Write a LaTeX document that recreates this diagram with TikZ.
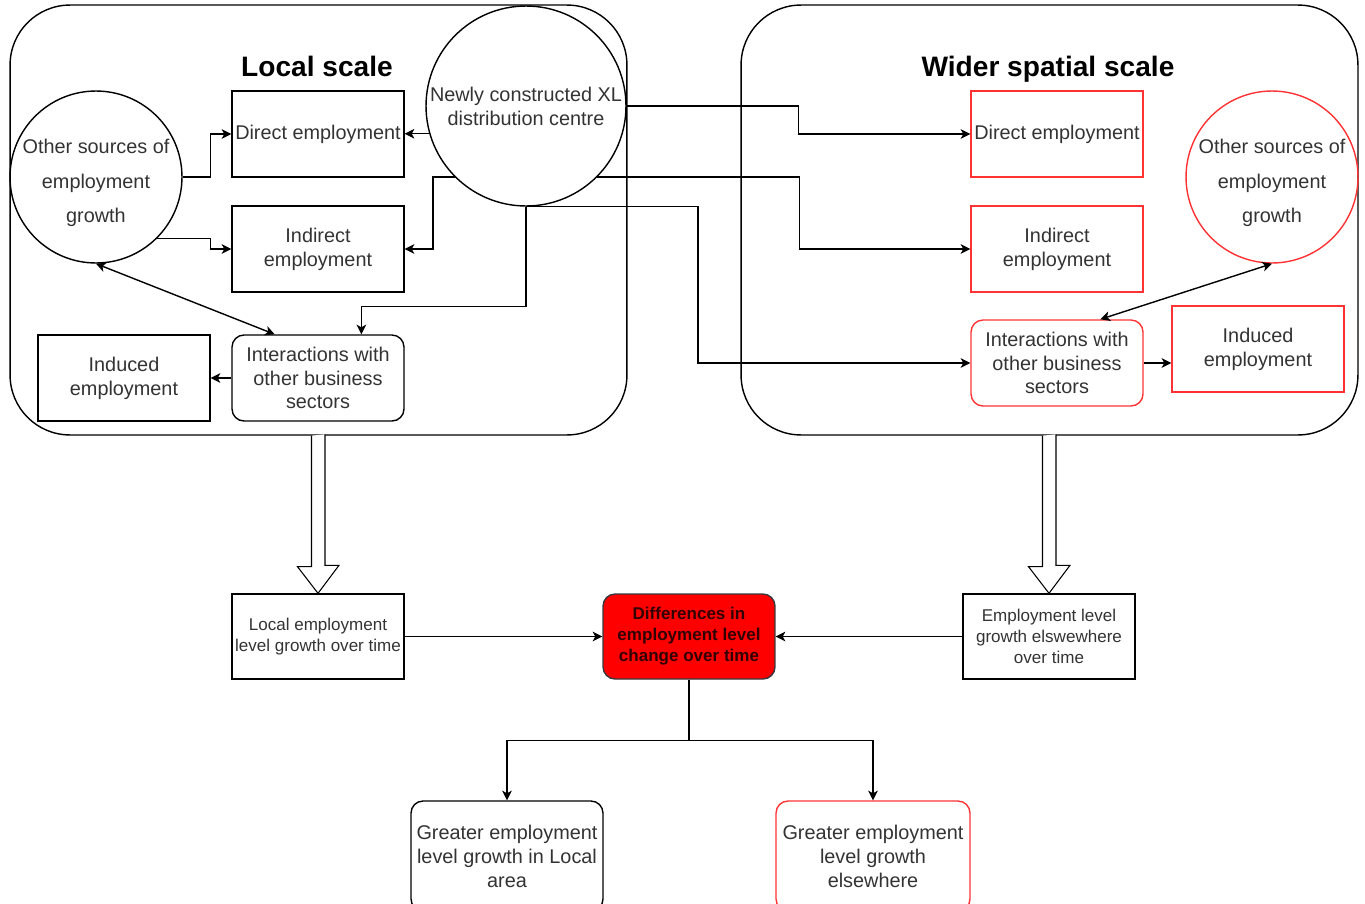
\documentclass[tikz,border=0pt]{standalone}
\usepackage{fontspec}
\setmainfont{Liberation Sans}
\usetikzlibrary{arrows.meta,calc}

\definecolor{txtgray}{HTML}{333333}
\definecolor{boxred}{HTML}{FF3333}
\definecolor{darkred}{HTML}{330000}
\definecolor{edgegray}{HTML}{36393D}

\begin{document}
\begin{tikzpicture}[x=0.02cm, y=-0.02cm, line width=0.8pt,
  box/.style={draw, minimum width=3.44cm, minimum height=1.72cm, inner sep=0pt,
    align=center, text=txtgray, font=\fontsize{11.3}{13.6}\selectfont},
  rbox/.style={box, rounded corners=0.24cm},
  small/.style={font=\fontsize{9.7}{11.9}\selectfont},
  oth/.style={draw, circle, minimum size=3.44cm, inner sep=0pt},
  othtxt/.style={align=center, text=txtgray, font=\fontsize{11.3}{19.8}\selectfont},
  area/.style={draw, rounded corners=1.2cm, minimum width=12.34cm, minimum height=8.6cm},
  title/.style={anchor=base, font=\fontsize{16}{19}\selectfont\bfseries},
  arr/.style={-{Stealth[length=5.5pt, width=5.5pt, inset=1.5pt]}},
  dblarr/.style={{Stealth[length=5.5pt, width=5.5pt, inset=1.5pt]}-{Stealth[length=5.5pt, width=5.5pt, inset=1.5pt]}},
  blockarr/.style={draw, fill=white, line width=0.6pt}]
  \clip (0,0) rectangle (1365,903);

  \node[area] (loc) at (318.5,220) {};
  \node[area] (wid) at (1049.5,220) {};
  \node[title] at (317,76) {Local scale};
  \node[title] at (1048,76) {Wider spatial scale};

  \node[draw, circle, minimum size=4cm, inner sep=0pt,
    label={[othtxt, font=\fontsize{11.3}{13.6}\selectfont]center:Newly constructed XL\\distribution centre}] (xl) at (526,106) {};

  % local scale
  \node[oth, label={[othtxt, yshift=-0.12cm]center:Other sources of\\employment\\growth}] (othL) at (96,177) {};
  \node[box] (dirL) at (318,134) {Direct employment};
  \node[box] (indL) at (318,249) {Indirect\\employment};
  \node[rbox] (intL) at (318,378) {Interactions with\\other business\\sectors};
  \node[box] (indcL) at (124,378) {Induced\\employment};

  % wider spatial scale
  \node[box, draw=boxred] (dirR) at (1057,134) {Direct employment};
  \node[box, draw=boxred] (indR) at (1057,249) {Indirect\\employment};
  \node[rbox, draw=boxred] (intR) at (1057,363) {Interactions with\\other business\\sectors};
  \node[box, draw=boxred] (indcR) at (1258,349) {Induced\\employment};
  \node[oth, draw=boxred, label={[othtxt, yshift=-0.12cm]center:Other sources of\\employment\\growth}] (othR) at (1272,177) {};

  % outcomes
  \node[box, small, minimum height=1.7cm] (locG) at (318,636.5) {Local employment\\level growth over time};
  \node[rbox, small, minimum height=1.7cm, fill=red, draw=edgegray, text=darkred,
    font=\fontsize{9.7}{11.9}\selectfont\bfseries] (diff) at (689,636.5) {Differences in\\employment level\\change over time};
  \node[box, small, minimum height=1.7cm] (elsG) at (1049,636.5) {Employment level\\growth elswewhere\\over time};
  \node[rbox, minimum width=3.84cm, minimum height=2.2cm] (grL) at (507,856) {Greater employment\\level growth in Local\\area};
  \node[rbox, draw=boxred, minimum width=3.88cm, minimum height=2.2cm] (grR) at (873,856) {Greater employment\\level growth\\elsewhere};

  \draw[arr] (xl.196) -- (xl.196 -| dirL.east);
  \draw[arr] (xl.225) -- ++(-22,0) |- (indL.east);
  \draw[arr] (xl.south) -- ++(0,100) -| ($(intL.north)!0.5!(intL.north east)$);
  \draw[arr] (xl.east) -- ++(172,0) |- (dirR.west);
  \draw[arr] (xl.-45) -- ++(202,0) |- (indR.west);
  \draw[arr] (xl.south) -- ++(172,0) |- (intR.west);

  \draw[arr] (othL.east) -- ++(28,0) |- (dirL.west);
  \draw[arr] (othL.-45) -- ++(53,0) |- (indL.west);
  \draw[dblarr] (othL.south) -- ($(intL.north west)!0.5!(intL.north)$);
  \draw[arr] (intL.west) -- (indcL.east);

  \draw[dblarr] (othR.south) -- ($(intR.north)!0.5!(intR.north east)$);
  \draw[arr] (intR.east) -- (intR.east -| indcR.west);

  \foreach \s/\e in {loc/locG, wid/elsG}
    \draw[blockarr] (\s.south) ++(-7,0) -- ++(0,131) -- ++(-14,0) -- (\e.north)
      -- ++(21,-28) -- ++(-14,0) -- ++(0,-131);

  \draw[arr] (locG.east) -- (diff.west);
  \draw[arr] (elsG.west) -- (diff.east);
  \draw[arr] (diff.south) -- ++(0,61) -| (grL.north);
  \draw[arr] (diff.south) -- ++(0,61) -| (grR.north);
\end{tikzpicture}
\end{document}
